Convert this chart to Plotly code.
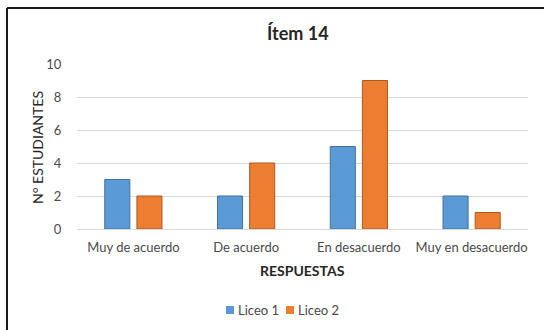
import plotly.graph_objects as go

# Survey responses for item 14, by school
categorias = ["Muy de acuerdo", "De acuerdo", "En desacuerdo", "Muy en desacuerdo"]
liceo_1 = [3, 2, 5, 2]
liceo_2 = [2, 4, 9, 1]
ticks_y = [0, 2, 4, 6, 8, 10]

FONT = "Lato, 'Open Sans', sans-serif"
GRIS = "#4a4a4a"
AZUL, AZUL_BORDE = "#5B9BD5", "#41719C"
NARANJA, NARANJA_BORDE = "#ED7D31", "#AE5A21"

# plot-area pixel geometry used to place paper-space items
L, R, T, B = 77, 16, 64, 101
W, H = 544, 330
pw, ph = W - L - R, H - T - B


def px(x):
    return (x - L) / pw


def py(y):
    return (H - B - y) / ph


fig = go.Figure()
fig.add_trace(go.Bar(
    x=categorias, y=liceo_1, name="Liceo 1",
    marker=dict(color=AZUL, line=dict(color=AZUL_BORDE, width=1)),
))
fig.add_trace(go.Bar(
    x=categorias, y=liceo_2, name="Liceo 2",
    marker=dict(color=NARANJA, line=dict(color=NARANJA_BORDE, width=1)),
))

# compact legend: small colour squares followed by the series names
legend_items = [("Liceo 1", AZUL, 226), ("Liceo 2", NARANJA, 286)]
legend_ann = []
legend_shapes = []
for name, color, x0 in legend_items:
    legend_shapes.append(dict(
        type="rect", xref="paper", yref="paper",
        x0=px(x0), x1=px(x0 + 8), y0=py(314), y1=py(306),
        fillcolor=color, line=dict(width=0),
    ))
    legend_ann.append(dict(
        text=name, x=px(x0 + 10), y=py(310), xref="paper", yref="paper",
        showarrow=False, xanchor="left", yanchor="middle",
        font=dict(family=FONT, size=13, color=GRIS),
    ))

fig.update_layout(
    width=W, height=H,
    margin=dict(l=L, r=R, t=T, b=B, pad=0, autoexpand=False),
    paper_bgcolor="white", plot_bgcolor="white",
    font=dict(family=FONT, size=12, color=GRIS),
    barmode="group", bargap=0.43, bargroupgap=0.22,
    showlegend=False,
    xaxis=dict(
        showgrid=False, showline=True, linecolor="#D9D9D9", linewidth=1,
        tickfont=dict(family=FONT, size=13, color=GRIS),
        ticks="outside", ticklen=6, tickcolor="rgba(0,0,0,0)",
        fixedrange=True,
    ),
    yaxis=dict(
        range=[0, 10], tickvals=ticks_y,
        showgrid=True, gridcolor="#D9D9D9", gridwidth=1,
        zeroline=False, showline=False,
        tickfont=dict(family=FONT, size=13, color=GRIS),
        ticks="outside", ticklen=12, tickcolor="rgba(0,0,0,0)",
        fixedrange=True,
    ),
    annotations=[
        dict(text="<b>Ítem 14</b>", x=px(298), y=py(33), xref="paper", yref="paper",
             showarrow=False, xanchor="center", yanchor="middle",
             font=dict(family=FONT, size=18, color="#262626")),
        dict(text="N° ESTUDIANTES", x=px(37), y=py(148), xref="paper", yref="paper",
             showarrow=False, xanchor="center", yanchor="middle", textangle=-90,
             font=dict(family=FONT, size=14, color="#262626")),
        dict(text="<b>RESPUESTAS</b>", x=px(302), y=py(270), xref="paper", yref="paper",
             showarrow=False, xanchor="center", yanchor="middle",
             font=dict(family=FONT, size=14, color="#262626")),
    ] + legend_ann,
    shapes=[
        # frame edges along the top and left
        dict(type="line", xref="paper", yref="paper",
             x0=px(7), x1=px(544), y0=py(8), y1=py(8),
             line=dict(color="#1a1a1a", width=2)),
        dict(type="line", xref="paper", yref="paper",
             x0=px(7), x1=px(7), y0=py(8), y1=py(330),
             line=dict(color="#1a1a1a", width=2)),
    ] + legend_shapes,
)

fig.write_html("out.html")
